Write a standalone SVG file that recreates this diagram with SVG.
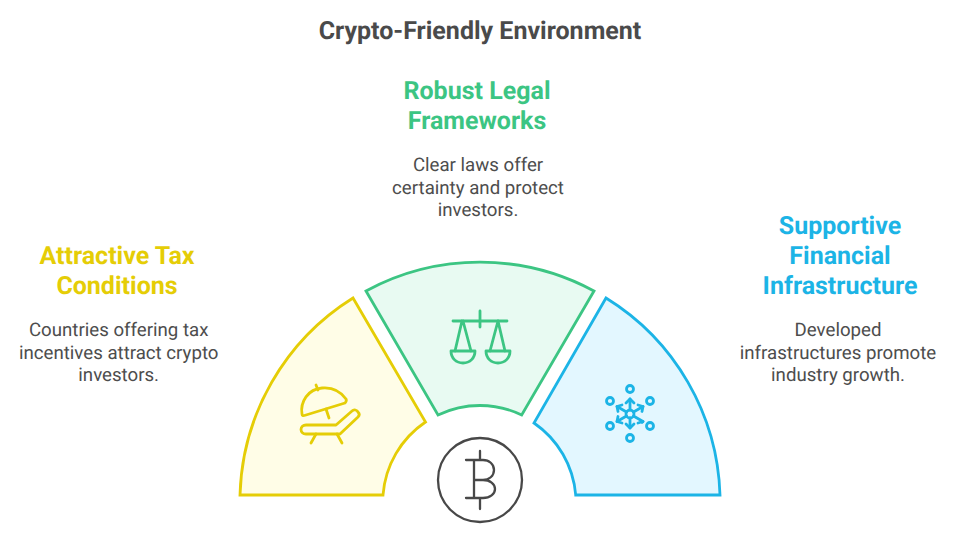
<svg xmlns="http://www.w3.org/2000/svg" width="960" height="542" viewBox="0 0 960 542">
<style>
text{font-family:Roboto,"Liberation Sans",sans-serif;text-anchor:middle;text-rendering:geometricPrecision}
.title{font-size:25px;font-weight:700;fill:#4a4a4a}
.head{font-size:25px;font-weight:700}
.body{font-size:18.670px;fill:#4d4d4d}
.ln{fill:none;stroke-width:2.800;stroke-linecap:round;stroke-linejoin:round}
.seg{stroke-width:2.800;stroke-linejoin:miter}
.y{stroke:#e5cd06}.g{stroke:#3cc583}.b{stroke:#1cb4e6}
</style>
<rect width="960" height="542" fill="#fff"/>
<text class="title" x="480" y="39">Crypto-Friendly Environment</text>
<g id="node-tax">
<path class="seg y" fill="#fffde7" d="M240 495A240 240 0 0 1 353 298L425.500 422A97 97 0 0 0 383 495Z"/>
<g class="ln y">
<path d="M302 414C300 402 308 389 322 388C333 387 341 392 346 399C347 401 346 402 345 403L306 415C303 416 302 416 302 414Z"/>
<path d="M316 385L318 390M326 409L329 418"/>
<path d="M336 425L352 411C354 409 357 410 358 412C360 414 359 416 358 417L340 434H306C303 434 301 432 301 429.500C301 427 303 425 306 425Z"/>
<path d="M316 434L311 443M337 434L342 443"/>
</g>
<text class="head" fill="#e5cd06" x="117" y="264">Attractive Tax</text>
<text class="head" fill="#e5cd06" x="117" y="294">Conditions</text>
<text class="body" x="118.700" y="336">Countries offering tax</text>
<text class="body" x="118.700" y="358.500">incentives attract crypto</text>
<text class="body" x="118.700" y="381">investors.</text>
</g>
<g id="node-legal">
<path class="seg g" fill="#e8faf2" d="M366 291A240 240 0 0 1 594 291L521.700 415A97 97 0 0 0 438 415Z"/>
<g class="ln g">
<path d="M453 321H507M480 311V327"/>
<path d="M462 321L455 351M463 321L471 351M498 321L490 351M498 321L505 351"/>
<path d="M451 351H475C475 358 470 363 463 363C456 363 451 358 451 351ZM486 351H510C510 358 505 363 498 363C491 363 486 358 486 351Z"/>
</g>
<text class="head" fill="#3cc583" x="477" y="99">Robust Legal</text>
<text class="head" fill="#3cc583" x="477" y="129">Frameworks</text>
<text class="body" x="478" y="171">Clear laws offer</text>
<text class="body" x="478" y="193.500">certainty and protect</text>
<text class="body" x="478" y="216">investors.</text>
</g>
<g id="node-infra">
<path class="seg b" fill="#e3f7ff" d="M606 298A240 240 0 0 1 720 495H575.700A97 97 0 0 0 534 423Z"/>
<g class="ln b">
<circle cx="630" cy="389" r="3.500"/>
<circle cx="610" cy="401" r="3.500"/>
<circle cx="650" cy="401" r="3.500"/>
<circle cx="610" cy="426" r="3.500"/>
<circle cx="650" cy="426" r="3.500"/>
<circle cx="630" cy="438" r="3.500"/>
<circle cx="630" cy="414" r="4"/>
<path d="M630 399V410M630 418V428M617 406.500L626.500 412M633.500 416L643 421.500M643 406.500L633.500 412M626.500 416L617 421.500"/>
<path d="M626 403L630 399L634 403M626 424L630 428L634 424M618 411.500L617 406.500L622 405M642 422.500L643 421.500L638 423M642 411.500L643 406.500L638 405M618 416.500L617 421.500L622 423"/>
</g>
<text class="head" fill="#1cb4e6" x="840" y="234">Supportive</text>
<text class="head" fill="#1cb4e6" x="840" y="264">Financial</text>
<text class="head" fill="#1cb4e6" x="840" y="294">Infrastructure</text>
<text class="body" x="838" y="336">Developed</text>
<text class="body" x="838" y="358.500">infrastructures promote</text>
<text class="body" x="838" y="381">industry growth.</text>
</g>
<g id="node-bitcoin">
<circle cx="480" cy="480" r="42" fill="#fff" stroke="#484848" stroke-width="2.300"/>
<path fill="none" stroke="#484848" stroke-width="2.300" stroke-linecap="round" d="M480 451V460M480 498V509M474 460V498M466 460H483C489 460 494 464 494 470C494 476 489 480 483 480H474M483 480C490 480 495 484 495 489C495 494 490 498 483 498H466"/>
</g>
<g id="connectors"></g>
</svg>
